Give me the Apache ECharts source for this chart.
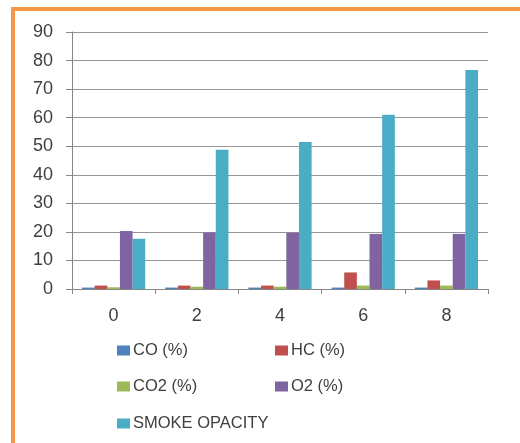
<!DOCTYPE html>
<html><head><meta charset="utf-8">
<script src="https://cdn.jsdelivr.net/npm/echarts@6/dist/echarts.min.js"></script>
<style>html,body{margin:0;padding:0;background:#fff}#c{width:520px;height:443px}</style>
</head><body><div id="c"></div>
<script>
const categories = ['0','2','4','6','8'];
const seriesNames = ['CO (%)','HC (%)','CO2 (%)','O2 (%)','SMOKE OPACITY'];
const coValues = [0.5, 0.5, 0.5, 0.5, 0.5];
const hcValues = [1.2, 1.2, 1.2, 5.8, 3.0];
const co2Values = [0.6, 0.8, 0.8, 1.2, 1.2];
const o2Values = [20.3, 19.8, 19.7, 19.3, 19.3];
const smokeValues = [17.6, 48.8, 51.5, 61.0, 76.7];
const colors = ['#4F81BD','#C0504D','#9BBB59','#8064A2','#4BACC6'];

const chart = echarts.init(document.getElementById('c'));
const allData = [coValues, hcValues, co2Values, o2Values, smokeValues];
const font = 'Liberation Sans, Arial, sans-serif';
const legendPos = [[117,342],[275,342],[117,378],[275,378],[117,415]];
chart.setOption({
  animation:false,
  graphic:[{type:'rect', shape:{x:13,y:9,width:700,height:700}, style:{fill:'none',stroke:'#F79646',lineWidth:4}}],
  grid:{left:72,right:32,top:32,bottom:154},
  xAxis:{type:'category',data:categories,
    axisLine:{lineStyle:{color:'#868686'}},
    axisTick:{show:true,length:5,lineStyle:{color:'#868686'}},
    axisLabel:{color:'#404040',fontSize:18,fontFamily:font,margin:18}},
  yAxis:{type:'value',min:0,max:90,interval:10,
    axisLine:{show:true,lineStyle:{color:'#868686'}},
    axisTick:{show:true,length:6,lineStyle:{color:'#868686'}},
    splitLine:{lineStyle:{color:'#959595'}},
    axisLabel:{color:'#404040',fontSize:18,fontFamily:font,margin:19}},
  legend: seriesNames.map((n,i)=>({data:[n],left:legendPos[i][0],top:legendPos[i][1],padding:0,
    itemWidth:13,itemHeight:10,itemGap:4,icon:'rect',
    textStyle:{color:'#404040',fontSize:16.5,fontFamily:font,padding:[0,0,0,-2]}})),
  series: seriesNames.map((n,i)=>({name:n,type:'bar',data:allData[i],
    barGap:'0%',barCategoryGap:'24%',itemStyle:{color:colors[i]}}))
});
</script></body></html>
